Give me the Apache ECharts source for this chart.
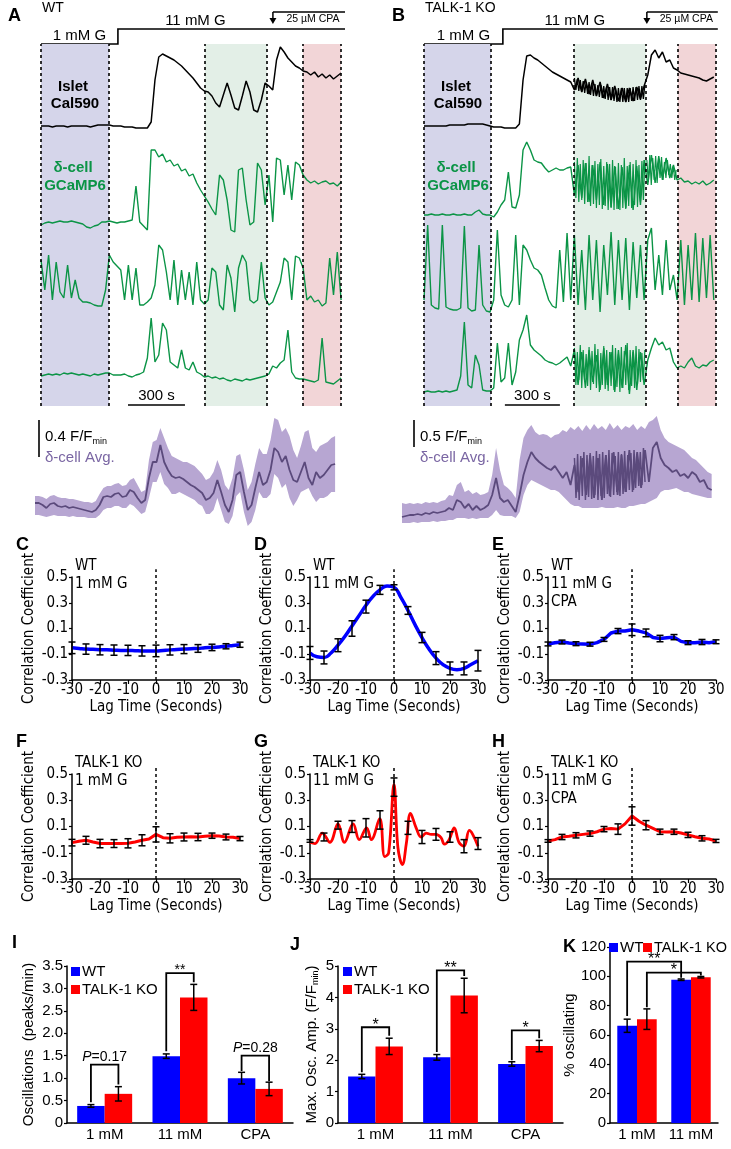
<!DOCTYPE html>
<html>
<head>
<meta charset="utf-8">
<title>delta-cell Ca2+ in WT and TALK-1 KO islets</title>
<script src="https://cdn.jsdelivr.net/npm/echarts@6/dist/echarts.min.js"></script>
<style>
  html, body { margin: 0; padding: 0; background: #fff; }
  #chart { width: 731px; height: 1149px; }
</style>
</head>
<body>
<div id="chart"></div>
<script>
// ---- traces (A = WT, B = TALK-1 KO), one sample every DT seconds, arbitrary fluorescence units ----
const DT = 20;
const wtIslet = [4,4,4,3,4,4,4,3,4,4, 4,4,4,3,4,5,5,5,5,4, 4,4,3,3,3,2,2,2,2,8,
  50,73,76,74,72,70,67,64,60,56, 52,47,42,39,38,34,27,23,35,47, 35,22,20,34,49,38,20,18,30,47,
  44,40,70,83,78,72,68,64,62,59, 58,55,58,53,56,52,55,51,54,57];
const wtCell1 = [15,17,18,17,18,19,18,18,19,18, 17,16,13,12,14,15,18,18,19,18, 17,18,18,19,20,54,18,14,10,90,
  90,83,86,78,80,74,76,69,71,64, 66,57,50,44,38,31,25,65,60,40, 10,8,70,72,40,15,18,77,70,35,
  65,18,82,80,45,75,40,78,75,65, 60,57,59,56,58,59,56,57,54,58];
const wtCell2 = [60,30,65,20,58,28,22,55,22,40, 22,18,18,17,15,14,14,30,65,58, 54,50,20,55,20,52,15,15,18,22,
  35,75,70,48,20,60,15,50,20,48, 15,58,20,16,20,52,48,15,10,55, 42,8,52,65,58,20,17,20,58,22,
  15,18,28,38,62,58,20,64,62,52, 20,24,18,20,14,17,62,25,68,20];
const wtCell3 = [14,15,16,15,16,15,17,16,17,16, 15,16,15,14,16,15,16,17,17,15, 15,15,16,14,13,15,16,18,32,72,
  28,35,67,60,28,25,22,40,22,20, 28,18,16,13,14,12,13,11,12,10, 9,11,10,9,11,10,11,12,13,14,
  16,24,22,27,30,60,18,12,11,11, 10,9,8,10,52,8,7,6,9,12];
const wtAvg = [27,27,25,22,26,27,24,23,24,22, 23,22,21,20,19,18,20,25,33,34, 33,36,37,33,34,40,38,32,27,30,
  52,68,68,85,68,60,54,52,53,51, 48,45,43,40,37,30,32,37,50,38, 25,18,30,55,58,38,20,25,42,58,
  45,48,60,82,78,68,74,60,50,48, 58,68,52,45,58,52,55,60,65,66];
const wtAvgHi = [34,34,33,31,34,35,33,32,32,31, 31,30,29,28,28,27,29,36,42,44, 44,46,47,44,45,50,52,45,38,40,
  70,88,90,102,92,82,74,72,70,68, 68,66,64,60,56,50,52,58,70,60, 45,40,52,74,76,60,40,48,66,82,
  76,76,90,112,110,98,102,94,80,72, 84,98,100,82,78,84,86,88,92,94];
const wtAvgLo = [15,15,14,13,14,15,14,14,14,13, 14,13,13,13,12,12,12,15,20,22, 22,24,24,22,22,26,24,20,16,18,
  32,48,48,58,46,42,36,36,38,36, 34,32,30,26,24,16,16,20,32,20, 8,6,14,34,38,18,4,8,20,38,
  32,32,36,56,52,42,46,32,24,30, 38,40,42,34,28,32,32,34,38,38];

const koIslet = [4,4,4,4,4,4,4,5,5,5, 5,5,6,6,6,6,6,5,4,3, 3,3,2,2,2,2,6,50,74,75,
  72,70,67,64,61,58,56,54,52,50, 48,40,52,38,51,36,50,34,48,32, 46,30,44,29,42,28,42,29,43,31,
  44,55,75,80,72,78,68,70,62,60, 57,56,55,54,53,52,50,49,51,53];
const koCell1 = [15,15,16,15,15,16,15,15,16,15, 15,16,15,15,18,20,16,15,15,13, 18,25,30,58,23,22,35,80,88,80,
  70,68,67,62,58,60,62,60,60,62, 63,35,65,32,67,28,65,30,68,25, 66,23,64,21,63,22,65,20,64,25,
  70,45,75,47,74,50,72,52,65,50, 52,48,49,46,48,46,49,45,47,50];
const koCell2 = [20,95,15,12,11,95,13,11,10,10, 12,94,12,9,10,75,15,9,8,20, 90,25,15,13,20,85,15,75,70,60,
  52,50,45,32,20,14,12,70,18,87, 20,85,15,70,10,85,20,80,8,75, 25,88,15,80,20,82,10,78,22,75,
  20,80,92,30,65,25,80,30,45,20, 80,15,75,20,87,18,82,22,85,20];
const koCell3 = [8,9,8,8,9,8,9,8,9,10, 24,78,15,12,45,35,10,9,9,12, 57,18,22,57,15,28,60,70,85,55,
  50,47,44,40,38,37,35,37,40,43, 34,50,15,48,12,50,18,45,10,52, 15,48,8,50,12,55,6,50,10,48,
  15,40,52,62,55,58,50,52,38,32, 34,32,38,42,34,32,35,34,38,40];
const koAvg = [13,14,15,15,16,15,17,16,18,17, 18,19,22,20,30,28,22,26,20,24, 20,22,25,35,52,32,28,30,24,18,
  35,55,68,78,72,68,65,62,60,64, 58,52,58,45,65,38,72,35,75,32, 72,30,75,34,78,35,75,38,80,40,
  78,42,80,48,82,88,72,65,62,58, 60,54,56,52,58,55,48,50,42,40];
const koAvgHi = [27,26,27,26,27,26,28,27,28,27, 29,30,35,34,45,48,38,40,36,38, 35,36,38,55,82,60,45,42,38,32,
  70,92,100,105,98,95,96,95,92,95, 96,100,98,103,100,104,99,105,100,106, 101,104,100,107,101,105,100,104,102,106,
  100,104,101,108,110,114,100,92,88,86, 84,82,80,76,72,70,66,62,58,56];
const koAvgLo = [7,7,7,8,7,8,8,8,9,8, 9,9,10,10,12,12,12,11,12,11, 12,12,12,15,20,15,14,14,14,12,
  18,35,45,50,48,46,44,42,40,40, 38,34,30,26,24,24,22,22,22,22, 22,23,22,22,22,23,22,22,24,24,
  25,26,26,28,30,32,38,40,40,41, 42,40,38,38,36,35,34,33,32,32];

// fast oscillation stretches of the KO recording, sampled every DT_FAST seconds from their start time
const DT_FAST = 8;
const koIsletFastStart = 820;
const koIsletFast = [52,40,51,39,50,38,49,37,48,36,48,35,47,34,46,34,45,33,45,32,44,31,44,30,43,30,43,29,42,28,42,28,42,28,42,28,42,28,42,29,43,29,43,30,44,30,44,31,45];
const koCell1FastStart = 820;
const koCell1Fast = [68,32,72,28,66,30,70,26,67,28,74,24,65,26,69,22,66,25,71,21,64,24,68,20,66,22,70,20,63,21,67,20,65,22,72,21,64,24,68,22,66,25,70,23,65,28,69,30,70];
const koCell1CpaStart = 1215;
const koCell1Cpa = [70,48,75,45,72,50,74,47,70,52,73,50,68,52,70,55,66,52,64,50,60];
const koCell3FastStart = 820;
const koCell3Fast = [52,15,48,20,55,12,50,18,46,14,53,10,49,16,56,12,51,8,47,15,54,11,50,9,48,14,55,10,52,13,46,8,53,12,49,15,57,10,50,14,48,12,54,16,51,18,47,20,50];
const koAvgFastStart = 880;
const koAvgFast = [72,32,76,30,74,34,78,30,75,33,77,31,74,35,79,30,76,34,78,32,75,36,80,33,77,35,74,38,78,34,76,36,79,38,75,40,77,38,80,42,76,44,78,45,82,48];

// protocol (seconds)
const wtWindows = [[0, 358], [863, 1189], [1379, 1579]];
const koWindows = [[0, 365], [818, 1210], [1384, 1591]];
const wtGlucoseStep = 405, koGlucoseStep = 430;
const wtCpaStart = 1221, koCpaStart = 1215;
const wtScaleStart = 458, koScaleStart = 441;
const scaleSeconds = 300;

// ---- cross-correlation (C-H) ----
const lagFine = [-30,-27.5,-25,-22.5,-20,-17.5,-15,-12.5,-10,-7.5,-5,-2.5,0,2.5,5,7.5,10,12.5,15,17.5,20,22.5,25,27.5,30];
const lagTicks = [-30,-25,-20,-15,-10,-5,0,5,10,15,20,25,30];
const wtLowCurve = [-0.05,-0.055,-0.06,-0.062,-0.065,-0.066,-0.068,-0.07,-0.07,-0.072,-0.074,-0.075,-0.074,-0.07,-0.066,-0.063,-0.06,-0.057,-0.055,-0.05,-0.047,-0.043,-0.038,-0.032,-0.026];
const wtLowMean = [-0.05,-0.06,-0.065,-0.068,-0.07,-0.074,-0.074,-0.066,-0.06,-0.055,-0.047,-0.038,-0.026];
const wtLowErr = [0.045,0.04,0.04,0.04,0.04,0.04,0.045,0.04,0.035,0.03,0.025,0.02,0.02];
const wtHighCurve = [-0.09,-0.12,-0.125,-0.09,-0.03,0.04,0.12,0.2,0.28,0.35,0.4,0.43,0.42,0.34,0.24,0.13,0.03,-0.06,-0.13,-0.18,-0.21,-0.22,-0.21,-0.18,-0.15];
const wtHighMean = [-0.09,-0.125,-0.03,0.1,0.27,0.4,0.42,0.24,0.03,-0.13,-0.21,-0.21,-0.15];
const wtHighErr = [0.05,0.05,0.05,0.06,0.05,0.035,0.02,0.03,0.04,0.05,0.05,0.05,0.08];
const wtCpaCurve = [-0.02,-0.01,-0.005,-0.012,-0.018,-0.02,-0.022,-0.01,0.015,0.065,0.08,0.08,0.09,0.08,0.066,0.03,0.022,0.028,0.033,0.0,-0.01,-0.01,-0.005,-0.01,-0.003];
const wtCpaMean = [-0.02,-0.005,-0.018,-0.022,0.015,0.08,0.09,0.066,0.022,0.033,-0.01,-0.005,-0.003];
const wtCpaErr = [0.015,0.015,0.015,0.015,0.015,0.02,0.045,0.03,0.025,0.02,0.015,0.02,0.015];
const koLowCurve = [-0.023,-0.012,-0.005,-0.018,-0.03,-0.03,-0.03,-0.03,-0.028,-0.018,-0.005,0.005,0.04,0.015,0.01,0.018,0.02,0.022,0.02,0.025,0.03,0.028,0.02,0.018,0.008];
const koLowMean = [-0.023,-0.005,-0.03,-0.03,-0.028,-0.005,0.04,0.01,0.02,0.02,0.03,0.02,0.008];
const koLowErr = [0.025,0.03,0.032,0.03,0.035,0.042,0.058,0.035,0.03,0.028,0.02,0.022,0.016];
const koHighCurve = [[-30,-0.02],[-28.2,-0.03],[-25.6,0.05],[-22.9,-0.02],[-20,0.12],[-17.7,-0.02],[-14.6,0.12],[-12.4,0.0],[-9.8,0.09],[-8.1,0.0],[-5.1,0.16],[-3.3,-0.13],[-1.9,-0.1],[0,0.42],[1.4,-0.06],[3,-0.19],[4.4,-0.03],[5.9,0.2],[7.9,0.09],[9.7,0.02],[11.5,0.05],[13.3,0.04],[15,0.04],[16.8,0.015],[18,-0.035],[19.7,0.0],[21.5,0.09],[23.2,-0.02],[25,-0.05],[26.9,0.07],[28.1,0.04],[30,-0.05]];
const koHighMean = [-0.01,0.02,0.11,0.1,0.09,0.15,0.4,0.09,0.02,0.04,0.02,-0.05,-0.03];
const koHighErr = [0.01,0.03,0.03,0.045,0.07,0.07,0.07,0.05,0.05,0.045,0.04,0.05,0.045];
const koCpaCurve = [-0.01,0.0,0.02,0.025,0.033,0.04,0.046,0.06,0.08,0.085,0.08,0.12,0.18,0.14,0.11,0.085,0.06,0.058,0.06,0.05,0.036,0.022,0.01,0.005,-0.01];
const koCpaMean = [-0.01,0.02,0.033,0.046,0.08,0.08,0.18,0.11,0.06,0.06,0.036,0.01,-0.01];
const koCpaErr = [0.01,0.02,0.02,0.02,0.02,0.04,0.07,0.035,0.02,0.02,0.02,0.02,0.012];

// ---- summary bars (I-K) ----
const conditions = ['1 mM', '11 mM', 'CPA'];
const oscWT = [0.38, 1.49, 1.0], oscWTErr = [0.03, 0.05, 0.13];
const oscKO = [0.65, 2.80, 0.76], oscKOErr = [0.16, 0.29, 0.15];
const ampWT = [1.48, 2.09, 1.88], ampWTErr = [0.07, 0.09, 0.07];
const ampKO = [2.44, 4.06, 2.45], ampKOErr = [0.26, 0.55, 0.18];
const pctConditions = ['1 mM', '11 mM'];
const pctWT = [66.3, 97.7], pctWTErr = [4.5, 0.5];
const pctKO = [70.8, 99.4], pctKOErr = [7, 0.5];
// [catA, groupA, legA, catB, groupB, legB, top]
const oscBrackets = [[0,0,0.46,0,1,0.86,1.3], [1,0,1.6,1,1,3.14,3.34], [2,0,1.16,2,1,0.93,1.5]];
const oscLabels = ['{i|P}=0.17', '**', '{i|P}=0.28'];
const ampBrackets = [[0,0,1.62,0,1,2.78,3.05], [1,0,2.26,1,1,4.68,4.86], [2,0,2.0,2,1,2.7,2.95]];
const ampLabels = ['*', '**', '*'];
const pctBrackets = [[0,0,73,1,0,99,110], [0,1,79,1,1,100.5,102.5]];
const pctLabels = ['**', '*'];

const SANS = "'Liberation Sans', Arial, sans-serif";
const NARROW = "'Liberation Sans Narrow', 'Arial Narrow', 'DejaVu Sans Condensed', sans-serif";
const GREEN = '#0b9446', PURPLE = '#5b4a7c', BAND = '#b7a6d2';
const SHADES = ['#d5d5ea', '#e3efe7', '#f2d5d7'];
const BLUE = '#0000ff', RED = '#ff0000';
const BAR_GAP = 0.27;

const grids = [], xAxes = [], yAxes = [], series = [];
function addGrid(rect, x, y) {
  const i = grids.length;
  grids.push(rect);
  xAxes.push(Object.assign({ gridIndex: i }, x));
  yAxes.push(Object.assign({ gridIndex: i }, y));
  return i;
}
const hidden = (min, max) => ({ type: 'value', min, max, show: false });
const lineOn = (gi, data, color, width, z) => series.push({ type: 'line', xAxisIndex: gi, yAxisIndex: gi,
  data, symbol: 'none', lineStyle: { color, width }, z: z || 3, silent: true });
const sampled = (values, start, step) => values.map((v, k) => [start + k * step, v]);

function trace(left, top, width, height, tMax, vMax, values, color, lw) {
  const gi = addGrid({ left, top, width, height }, hidden(0, tMax), hidden(0, vMax));
  lineOn(gi, sampled(values, 0, DT), color, lw || 1.4);
  return gi;
}

function avgTrace(left, top, width, height, tMax, vMax, mean, hi, lo) {
  const gi = addGrid({ left, top, width, height }, hidden(0, tMax), hidden(0, vMax));
  // spread band drawn as one polygon
  series.push({ type: 'custom', xAxisIndex: gi, yAxisIndex: gi, silent: true, z: 2,
    encode: { x: 0, y: 1 }, data: [[0, mean[0]]],
    renderItem: (p, api) => {
      const up = hi.map((v, k) => api.coord([k * DT, v]));
      const dn = lo.map((v, k) => api.coord([k * DT, v])).reverse();
      return { type: 'polygon', shape: { points: up.concat(dn) }, style: { fill: BAND } };
    } });
  lineOn(gi, sampled(mean, 0, DT), PURPLE, 1.8);
  return gi;
}

function frame(left, width, tMax, windows) {
  const gi = addGrid({ left, top: 44, width, height: 362 }, hidden(0, tMax), hidden(0, 1));
  const cuts = [];
  windows.forEach(w => { cuts.push(w[0], w[1]); });
  series.push({ type: 'line', xAxisIndex: gi, yAxisIndex: gi, data: [[0, 0]], symbol: 'none',
    lineStyle: { opacity: 0 }, silent: true, z: 1,
    markArea: { silent: true, data: windows.map((w, k) => [{ xAxis: w[0], itemStyle: { color: SHADES[k], opacity: 1 } }, { xAxis: w[1] }]) },
    markLine: { silent: true, symbol: 'none', label: { show: false }, animation: false,
      lineStyle: { color: '#000', type: [3, 3], width: 1.6 }, data: cuts.map(t => ({ xAxis: t })) } });
  return gi;
}

// panel A (WT)
const fA = frame(41, 302, 1590, wtWindows);
trace(41, 40, 302, 90, 1590, 90, wtIslet, '#000', 1.5);
trace(41, 140, 302, 100, 1590, 100, wtCell1, GREEN);
trace(41, 230, 302, 90, 1590, 90, wtCell2, GREEN);
trace(41, 310, 302, 80, 1590, 80, wtCell3, GREEN);
const avgA = avgTrace(35, 400, 302, 130, 1590, 130, wtAvg, wtAvgHi, wtAvgLo);
// panel B (TALK-1 KO)
const fB = frame(424, 292, 1592, koWindows);
const kIs = trace(424, 40, 292, 90, 1592, 90, koIslet, '#000', 1.5);
lineOn(kIs, sampled(koIsletFast, koIsletFastStart, DT_FAST), '#000', 1.3);
const kC1 = trace(424, 130, 292, 100, 1592, 100, koCell1, GREEN);
lineOn(kC1, sampled(koCell1Fast, koCell1FastStart, DT_FAST), GREEN, 1.2);
lineOn(kC1, sampled(koCell1Cpa, koCell1CpaStart, DT_FAST), GREEN, 1.2);
trace(424, 210, 292, 110, 1592, 110, koCell2, GREEN);
const kC3 = trace(424, 300, 292, 100, 1592, 100, koCell3, GREEN);
lineOn(kC3, sampled(koCell3Fast, koCell3FastStart, DT_FAST), GREEN, 1.2);
const avgB = avgTrace(402, 400, 312, 130, 1592, 130, koAvg, koAvgHi, koAvgLo);
lineOn(avgB, sampled(koAvgFast, koAvgFastStart, DT_FAST), PURPLE, 1.5);

// ---- correlation panels ----
function errBar(params, api) {
  const x = api.value(0), m = api.value(1), e = api.value(2);
  const a = api.coord([x, m + e]), b = api.coord([x, m - e]);
  const st = { stroke: '#000', lineWidth: 1.5 };
  return { type: 'group', children: [
    { type: 'line', shape: { x1: a[0], y1: a[1], x2: b[0], y2: b[1] }, style: st },
    { type: 'line', shape: { x1: a[0] - 3.5, y1: a[1], x2: a[0] + 3.5, y2: a[1] }, style: st },
    { type: 'line', shape: { x1: b[0] - 3.5, y1: b[1], x2: b[0] + 3.5, y2: b[1] }, style: st }
  ] };
}
const corrTexts = [];
function corrPanel(left, top, height, curve, mean, err, color, lw, smooth, lines, letter) {
  const gi = addGrid({ left, top, width: 168, height },
    { type: 'value', min: -30, max: 30, interval: 10,
      axisLine: { onZero: false, lineStyle: { color: '#000', width: 1.5 } },
      axisTick: { length: 4, lineStyle: { color: '#000', width: 1.2 } },
      axisLabel: { color: '#000', fontSize: 15, fontFamily: NARROW, margin: 3 },
      splitLine: { show: false },
      name: 'Lag Time (Seconds)', nameLocation: 'middle', nameGap: 20,
      nameTextStyle: { color: '#000', fontSize: 15, fontFamily: NARROW } },
    { type: 'value', min: -0.3, max: 0.5, interval: 0.2,
      axisLine: { show: true, onZero: false, lineStyle: { color: '#000', width: 1.5 } },
      axisTick: { show: true, length: 3, lineStyle: { color: '#000', width: 1.2 } },
      axisLabel: { color: '#000', fontSize: 15, fontFamily: NARROW, margin: 4,
        formatter: v => (Math.round(v * 10) / 10).toFixed(1) },
      splitLine: { show: false },
      name: 'Correlation Coefficient', nameLocation: 'middle', nameGap: 35,
      nameTextStyle: { color: '#000', fontSize: 15, fontFamily: NARROW } });
  series.push({ type: 'line', xAxisIndex: gi, yAxisIndex: gi, data: [[0, -0.3], [0, 0.56]], clip: false,
    symbol: 'none', silent: true, lineStyle: { color: '#000', type: [3, 3], width: 1.5 }, z: 2 });
  series.push({ type: 'line', xAxisIndex: gi, yAxisIndex: gi, data: curve, smooth, symbol: 'none',
    silent: true, lineStyle: { color, width: lw }, z: 3 });
  series.push({ type: 'custom', xAxisIndex: gi, yAxisIndex: gi, renderItem: errBar, silent: true, z: 4,
    encode: { x: 0, y: 1 }, data: lagTicks.map((l, k) => [l, mean[k], err[k]]) });
  lines.forEach((t, k) => corrTexts.push({ x: left + 3, y: top - 11 + k * 18, text: t }));
  corrTexts.push({ x: left - 56, y: top - 32, text: letter, bold: true });
}
const pair = ys => lagFine.map((l, k) => [l, ys[k]]);
corrPanel(72, 577, 103, pair(wtLowCurve), wtLowMean, wtLowErr, BLUE, 3.5, true, ['WT', '1 mM G'], 'C');
corrPanel(310, 577, 103, pair(wtHighCurve), wtHighMean, wtHighErr, BLUE, 3.5, true, ['WT', '11 mM G'], 'D');
corrPanel(548, 577, 103, pair(wtCpaCurve), wtCpaMean, wtCpaErr, BLUE, 3.5, false, ['WT', '11 mM G', 'CPA'], 'E');
corrPanel(72, 774, 105, pair(koLowCurve), koLowMean, koLowErr, RED, 3, false, ['TALK-1 KO', '1 mM G'], 'F');
corrPanel(310, 774, 105, koHighCurve, koHighMean, koHighErr, RED, 2.8, 0.4, ['TALK-1 KO', '11 mM G'], 'G');
corrPanel(548, 774, 105, pair(koCpaCurve), koCpaMean, koCpaErr, RED, 3, false, ['TALK-1 KO', '11 mM G', 'CPA'], 'H');

// ---- bar panels ----
function barOffset(api, cat, group) {
  const band = api.size([1, 0])[0];
  const bw = band * (1 - BAR_GAP) / 2;
  return api.coord([cat, 0])[0] + (group === 0 ? -bw / 2 : bw / 2);
}
function barErr(group) {
  return function (params, api) {
    const c = api.value(0), m = api.value(1), e = api.value(2);
    const x = barOffset(api, c, group);
    const ya = api.coord([c, m + e])[1], yb = api.coord([c, m - e])[1];
    const st = { stroke: '#000', lineWidth: 1.5 };
    return { type: 'group', children: [
      { type: 'line', shape: { x1: x, y1: ya, x2: x, y2: yb }, style: st },
      { type: 'line', shape: { x1: x - 3.5, y1: ya, x2: x + 3.5, y2: ya }, style: st },
      { type: 'line', shape: { x1: x - 3.5, y1: yb, x2: x + 3.5, y2: yb }, style: st }
    ] };
  };
}
function bracket(labels, fontSize) {
  return function (params, api) {
    const xa = barOffset(api, api.value(0), api.value(1));
    const xb = barOffset(api, api.value(3), api.value(4));
    const ya = api.coord([0, api.value(2)])[1], yb = api.coord([0, api.value(5)])[1];
    const yt = api.coord([0, api.value(6)])[1];
    const label = labels[params.dataIndex];
    const stars = label.indexOf('*') === 0;
    return { type: 'group', children: [
      { type: 'polyline', shape: { points: [[xa, ya], [xa, yt], [xb, yt], [xb, yb]] },
        style: { stroke: '#000', lineWidth: 1.8, fill: null } },
      { type: 'text', x: (xa + xb) / 2, y: stars ? yt - 10 : yt - 1,
        style: { text: label, fill: '#000', font: fontSize + 'px ' + SANS,
          align: 'center', verticalAlign: stars ? 'top' : 'bottom', rich: { i: { fontStyle: 'italic', fontSize, fontFamily: SANS } } } }
    ] };
  };
}
function barPanel(rect, cats, wt, wtE, ko, koE, yCfg, brackets, labels, bracketFont) {
  const gi = addGrid(rect,
    { type: 'category', data: cats,
      axisLine: { lineStyle: { color: '#000', width: 1.5 } },
      axisTick: { length: 4, lineStyle: { color: '#000', width: 1.2 } },
      axisLabel: { color: '#000', fontSize: 15, fontFamily: SANS, margin: 4, interval: 0 } },
    Object.assign({ type: 'value',
      axisLine: { show: true, lineStyle: { color: '#000', width: 1.5 } },
      axisTick: { show: true, length: 3, lineStyle: { color: '#000', width: 1.2 } },
      splitLine: { show: false }, nameLocation: 'middle' }, yCfg));
  const common = { type: 'bar', xAxisIndex: gi, yAxisIndex: gi, barGap: '0%', barCategoryGap: (BAR_GAP * 100) + '%', silent: true };
  series.push(Object.assign({ name: 'WT', data: wt, itemStyle: { color: BLUE } }, common));
  series.push(Object.assign({ name: 'TALK-1 KO', data: ko, itemStyle: { color: RED } }, common));
  series.push({ type: 'custom', xAxisIndex: gi, yAxisIndex: gi, renderItem: barErr(0), z: 4, silent: true,
    encode: { x: 0, y: 1 }, data: wt.map((v, k) => [k, v, wtE[k]]) });
  series.push({ type: 'custom', xAxisIndex: gi, yAxisIndex: gi, renderItem: barErr(1), z: 4, silent: true,
    encode: { x: 0, y: 1 }, data: ko.map((v, k) => [k, v, koE[k]]) });
  series.push({ type: 'custom', xAxisIndex: gi, yAxisIndex: gi, renderItem: bracket(labels, bracketFont), z: 5, silent: true,
    encode: { x: 0, y: 6 }, data: brackets });
}
const yLabel = { color: '#000', fontSize: 15, fontFamily: SANS, margin: 4 };
barPanel({ left: 67, top: 966, width: 226, height: 157 }, conditions, oscWT, oscWTErr, oscKO, oscKOErr,
  { min: 0, max: 3.5, interval: 0.5, axisLabel: Object.assign({ formatter: v => v === 0 ? '0' : v.toFixed(1) }, yLabel),
    name: 'Oscillations  (peaks/min)', nameGap: 31, nameTextStyle: { color: '#000', fontSize: 15, fontFamily: SANS } },
  oscBrackets, oscLabels, 14);
barPanel({ left: 338, top: 966, width: 225, height: 157 }, conditions, ampWT, ampWTErr, ampKO, ampKOErr,
  { min: 0, max: 5, interval: 1, axisLabel: yLabel,
    name: 'Max. Osc. Amp. (F/F{s|min})', nameGap: 18,
    nameTextStyle: { color: '#000', fontSize: 15, fontFamily: SANS, rich: { s: { fontSize: 9, fontFamily: SANS, padding: [8, 0, 0, 0] } } } },
  ampBrackets, ampLabels, 16);
barPanel({ left: 610, top: 947, width: 108, height: 176 }, pctConditions, pctWT, pctWTErr, pctKO, pctKOErr,
  { min: 0, max: 120, interval: 20, axisLabel: yLabel,
    name: '% oscillating', nameGap: 26, nameTextStyle: { color: '#000', fontSize: 15, fontFamily: SANS } },
  pctBrackets, pctLabels, 16);

const legendBase = { icon: 'rect', itemWidth: 9, itemHeight: 9, padding: 0,
  selectedMode: false, textStyle: { color: '#000', fontSize: 15, fontFamily: SANS, padding: [0, 0, 0, -3] } };

const chart = echarts.init(document.getElementById('chart'));
chart.setOption({
  animation: false,
  textStyle: { fontFamily: SANS },
  grid: grids, xAxis: xAxes, yAxis: yAxes, series,
  legend: [
    Object.assign({ left: 71, top: 964, orient: 'vertical', itemGap: 3, data: ['WT', 'TALK-1 KO'] }, legendBase),
    Object.assign({ left: 343, top: 964, orient: 'vertical', itemGap: 3, data: ['WT', 'TALK-1 KO'] }, legendBase),
    Object.assign({ left: 609, top: 940, data: ['WT'] }, legendBase),
    Object.assign({ left: 643, top: 940, data: ['TALK-1 KO'],
      textStyle: { color: '#000', fontSize: 14.5, fontFamily: SANS, padding: [0, 0, 0, -3] } }, 
      { icon: 'rect', itemWidth: 9, itemHeight: 9, padding: 0, selectedMode: false })
  ]
});

// ---- annotations placed through the axes ----
const g = [];
const txt = (x, y, text, font, fill, align) => g.push({ type: 'text', x, y, silent: true, z: 10,
  style: { text, font, fill: fill || '#000', align: align || 'left', verticalAlign: 'middle' } });
const seg = (x1, y1, x2, y2, w) => g.push({ type: 'line', silent: true, z: 10,
  shape: { x1, y1, x2, y2 }, style: { stroke: '#000', lineWidth: w || 1.5 } });

function protocol(fi, step, cpa, tEnd, scaleStart, avgIdx, barLen, barLabel, labelX, name, letter, letterX) {
  const xs = t => chart.convertToPixel({ gridIndex: fi }, [t, 0])[0];
  const x0 = xs(0), xStep = xs(step), xCpa = xs(cpa), xEnd = xs(tEnd) + 2;
  g.push({ type: 'polyline', silent: true, shape: { points: [[x0, 44], [xStep, 44], [xStep, 29], [xEnd, 29]] },
    style: { stroke: '#000', lineWidth: 1.6, fill: null } });
  seg(xCpa, 12, xEnd, 12, 1.5);
  seg(xCpa, 12, xCpa, 20, 1.5);
  g.push({ type: 'polygon', silent: true, shape: { points: [[xCpa - 3.5, 18], [xCpa + 3.5, 18], [xCpa, 24]] }, style: { fill: '#000' } });
  txt((x0 + xStep) / 2, 36, '1 mM G', '15px ' + SANS, '#000', 'center');
  txt((xStep + xCpa) / 2, 21, '11 mM G', '15px ' + SANS, '#000', 'center');
  txt((xCpa + xEnd) / 2 + 4, 19, '25 µM CPA', '10.5px ' + SANS, '#000', 'center');
  const s0 = xs(scaleStart), s1 = xs(scaleStart + scaleSeconds);
  seg(s0, 405, s1, 405, 1.6);
  txt((s0 + s1) / 2, 396, scaleSeconds + ' s', '15px ' + SANS, '#000', 'center');
  // vertical F/Fmin bar, length through the average trace's axis
  const yTop = 420;
  const len = chart.convertToPixel({ gridIndex: avgIdx }, [0, 0])[1] - chart.convertToPixel({ gridIndex: avgIdx }, [0, barLen])[1];
  seg(labelX - 6, yTop, labelX - 6, yTop + len, 1.6);
  g.push({ type: 'text', x: labelX, y: 437, silent: true, z: 10, style: { text: barLabel + ' F/F{s|min}',
    font: '15px ' + SANS, fill: '#000', verticalAlign: 'middle',
    rich: { s: { fontSize: 9, fontFamily: SANS, padding: [9, 0, 0, 0] } } } });
  txt(labelX, 458, 'δ-cell Avg.', '15px ' + SANS, '#7a66a3');
  txt(letterX, 16, letter, 'bold 18px ' + SANS);
  txt(x0 + 1, 8, name, '14px ' + SANS);
  const cx = x0 + 32;
  txt(cx, 87, 'Islet', 'bold 15px ' + SANS, '#000', 'center');
  txt(cx + 2, 104, 'Cal590', 'bold 15px ' + SANS, '#000', 'center');
  txt(cx, 168, 'δ-cell', 'bold 15px ' + SANS, GREEN, 'center');
  txt(cx + 2, 186, 'GCaMP6', 'bold 15px ' + SANS, GREEN, 'center');
}
protocol(fA, wtGlucoseStep, wtCpaStart, 1590, wtScaleStart, avgA, 37, '0.4', 45, 'WT', 'A', 8);
protocol(fB, koGlucoseStep, koCpaStart, 1591, koScaleStart, avgB, 27, '0.5', 420, 'TALK-1 KO', 'B', 392);

corrTexts.forEach(t => txt(t.x, t.y, t.text, t.bold ? 'bold 18px ' + SANS : '15px ' + NARROW));
txt(12, 943, 'I', 'bold 18px ' + SANS);
txt(290, 945, 'J', 'bold 18px ' + SANS);
txt(563, 947, 'K', 'bold 18px ' + SANS);

chart.setOption({ graphic: g });
</script>
</body>
</html>
